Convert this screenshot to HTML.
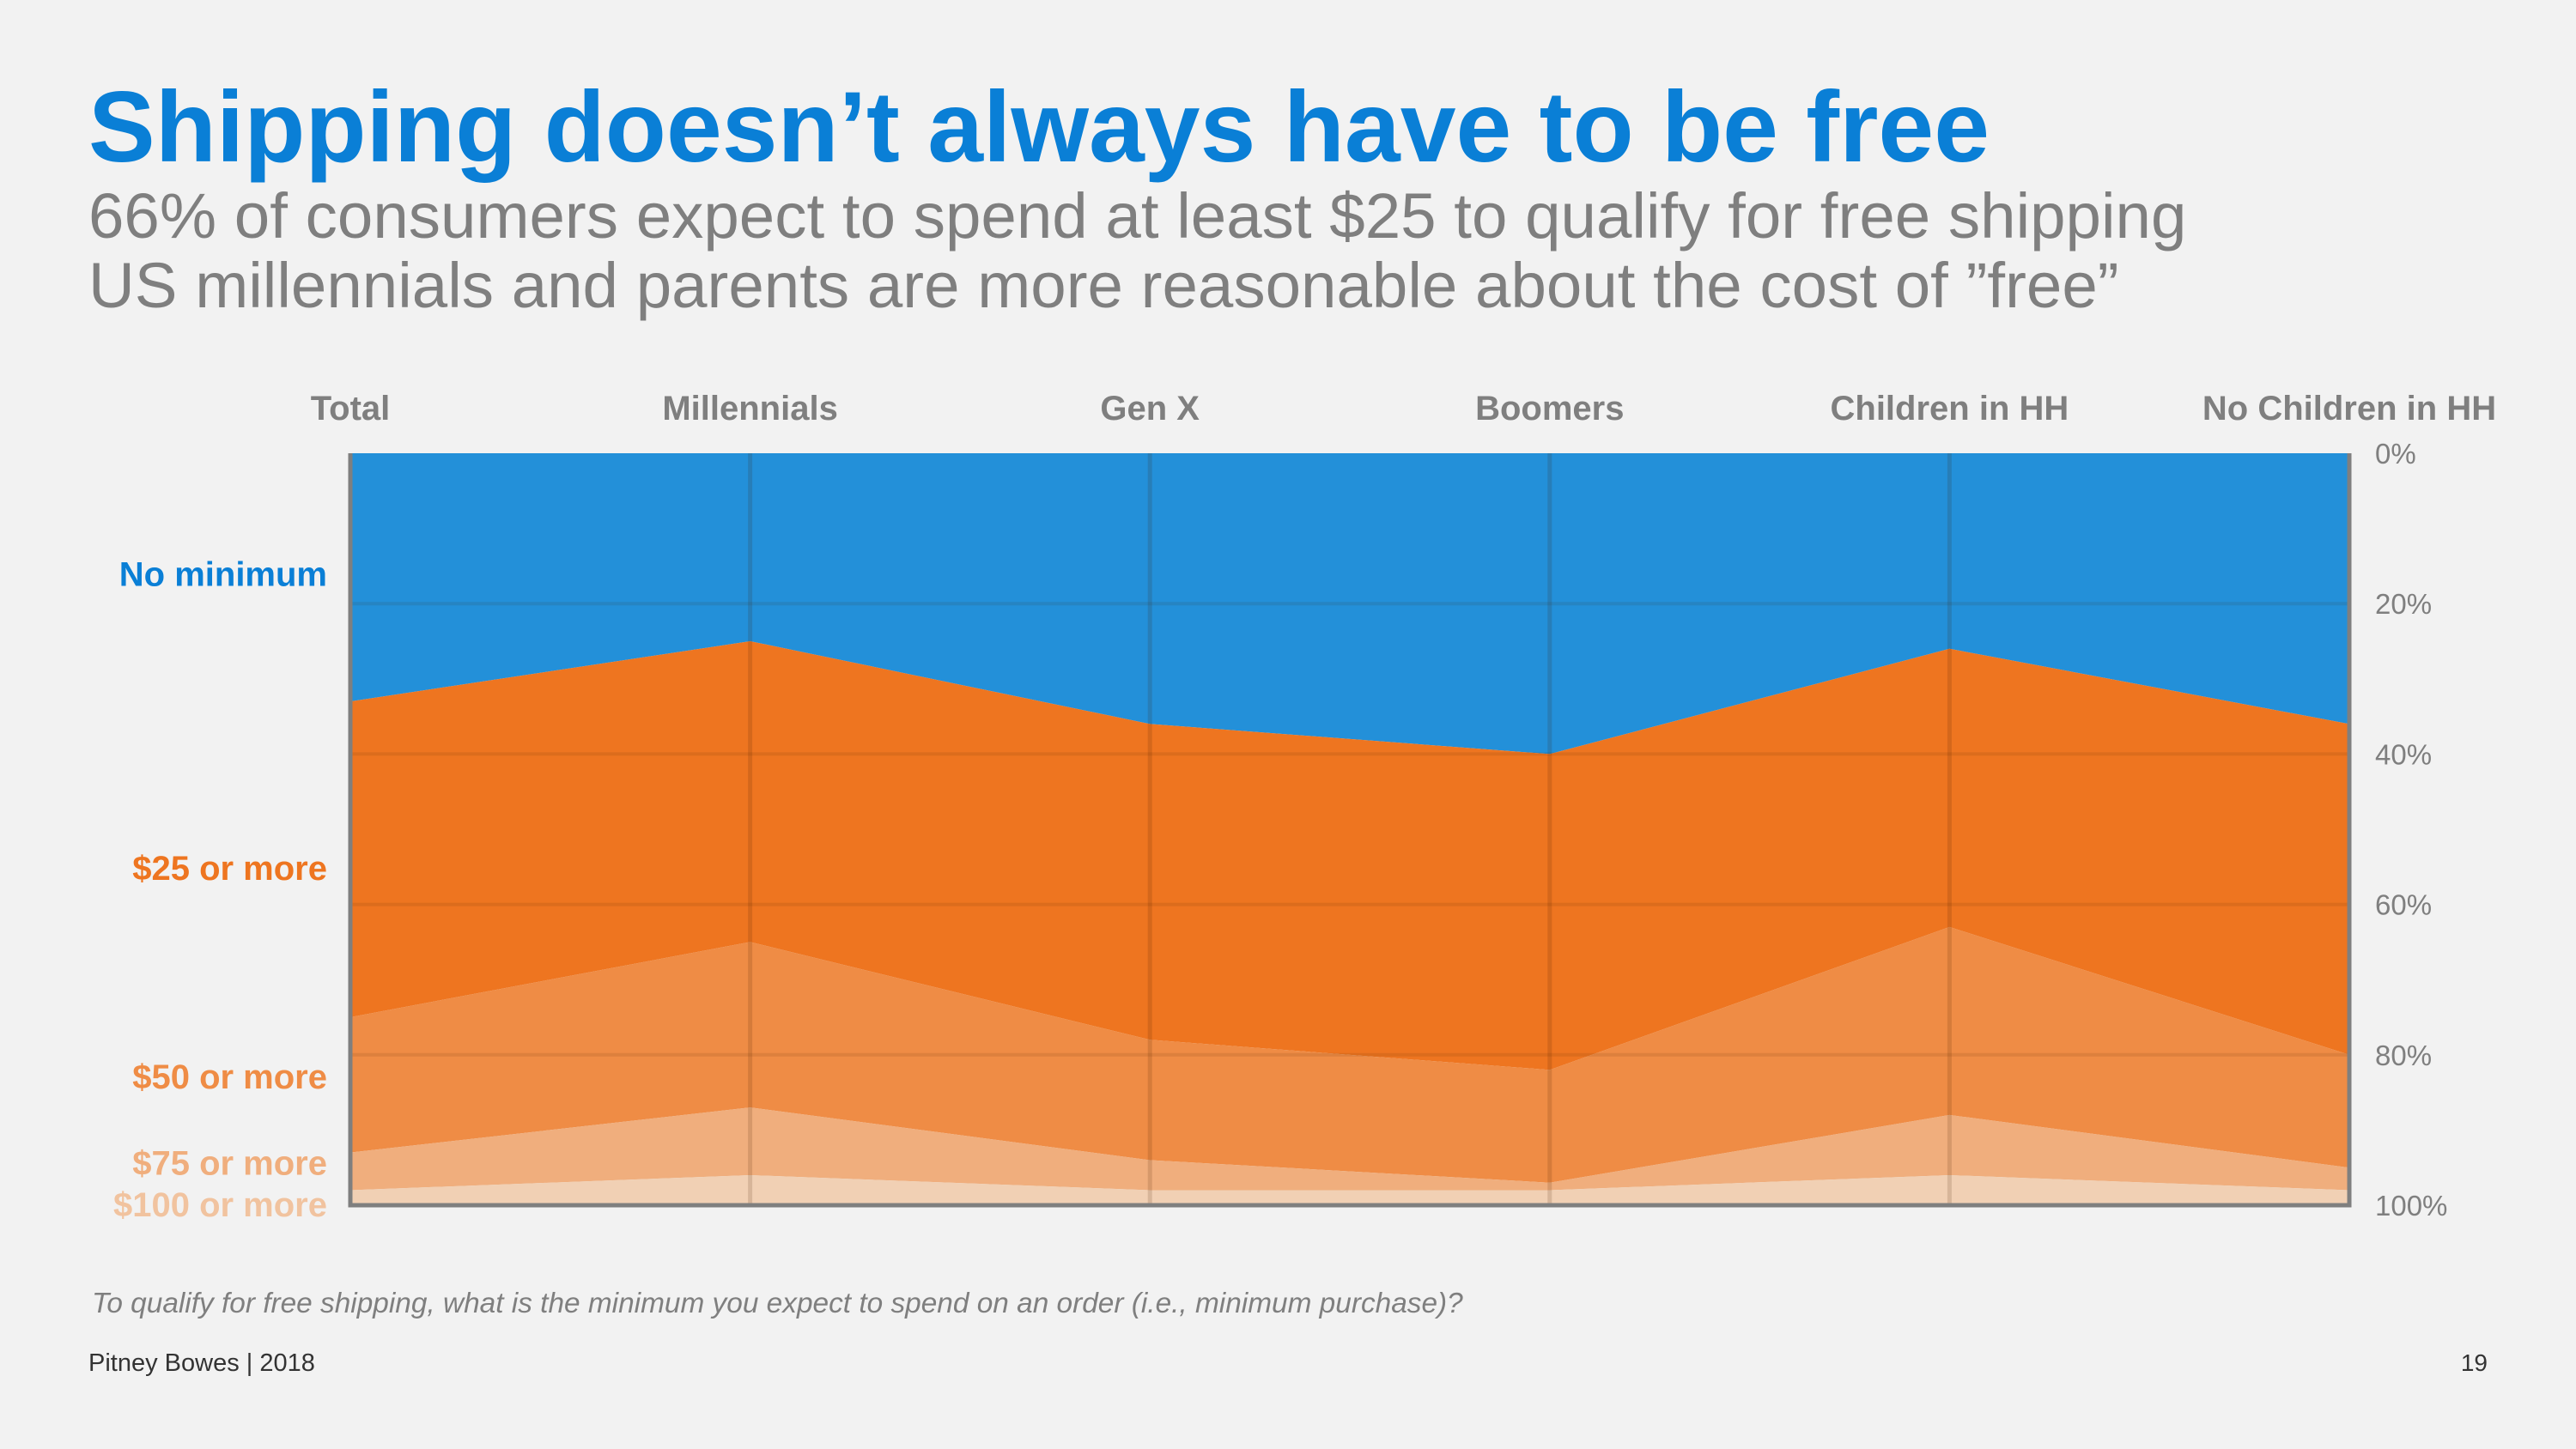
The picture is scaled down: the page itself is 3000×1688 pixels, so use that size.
<!DOCTYPE html>
<html><head><meta charset="utf-8"><style>
html,body{margin:0;padding:0;background:#f2f2f2;}
svg{display:block;font-family:"Liberation Sans",Arial,sans-serif;}
</style></head><body>
<svg id="chart" width="3000" height="1688" viewBox="0 0 3000 1688" xmlns="http://www.w3.org/2000/svg">
<rect width="3000" height="1688" fill="#f2f2f2"/>
<text x="103" y="188" font-size="116.5" font-weight="bold" fill="#0a7fd6">Shipping doesn’t always have to be free</text>
<text x="103" y="277" font-size="74.5" fill="#7f7f7f">66% of consumers expect to spend at least $25 to qualify for free shipping</text>
<text x="103" y="358" font-size="74.5" fill="#7f7f7f">US millennials and parents are more reasonable about the cost of ”free”</text>
<g id="plot"></g>
<text x="107" y="1529" font-size="33.4" font-style="italic" fill="#7f7f7f">To qualify for free shipping, what is the minimum you expect to spend on an order (i.e., minimum purchase)?</text>
<text x="103" y="1597" font-size="29" fill="#333">Pitney Bowes | 2018</text>
<text x="2897" y="1597" font-size="28" fill="#333" text-anchor="end">19</text>
</svg>
<script>
const categories = ["Total","Millennials","Gen X","Boomers","Children in HH","No Children in HH"];
const seriesNames = ["No minimum","$25 or more","$50 or more","$75 or more","$100 or more"];
const noMinimum = [33,25,36,40,26,36];
const min25 = [42,40,42,42,37,44];
const min50 = [18,22,16,15,25,15];
const min75 = [5,9,4,1,8,3];
const min100 = [2,4,2,2,4,2];
const yTicks = [0,20,40,60,80,100];

const series=[noMinimum,min25,min50,min75,min100];
const colors=["#2390d9","#ee7520","#ef8c45","#f0ae7d","#f1d0b4"];
const labelColors=["#0a7fd6","#ee7520","#ef8c45","#f0ae7d","#f1c39f"];
const labelShift=[-4,10,-10,-4,8];
const L=408,R=2736,T=528,B=1404;
const NS="http://www.w3.org/2000/svg";
const g=document.getElementById('plot');
const x=i=>L+(R-L)*i/(categories.length-1);
const y=v=>T+(B-T)*v/100;
function mk(t,a){const e=document.createElementNS(NS,t);for(const k in a)e.setAttribute(k,a[k]);g.appendChild(e);return e;}
let cum=categories.map(()=>0);
series.forEach((s,si)=>{
  const top=cum.slice(); const bot=cum.map((c,i)=>c+s[i]);
  let pts=top.map((v,i)=>x(i)+","+y(v));
  for(let i=bot.length-1;i>=0;i--)pts.push(x(i)+","+y(bot[i]));
  const p=mk('polygon',{points:pts.join(" "),fill:colors[si]});
  
  
  const mid=(top[0]+bot[0])/2;
  const ly=y(mid)+14+labelShift[si]+(si==3?-6:0);
  const t=mk('text',{x:381,y:ly,'font-size':40,'font-weight':'bold','text-anchor':'end',fill:labelColors[si]});
  t.textContent=seriesNames[si];
  
  
  cum=bot;
});
yTicks.forEach(v=>{
  if(v>0&&v<100){const l=mk('line',{x1:L,x2:R,y1:y(v),y2:y(v),stroke:'rgba(70,30,0,0.10)','stroke-width':4});
  
  }
  const t=mk('text',{x:2766,y:y(v)+12,'font-size':33,fill:'#7f7f7f'});
  t.textContent=v+"%";
  
  
});
categories.forEach((c,i)=>{
  if(i>0&&i<categories.length-1){const l=mk('line',{x1:x(i),x2:x(i),y1:T,y2:B,stroke:'rgba(70,30,0,0.15)','stroke-width':5});
  
  }
  const t=mk('text',{x:x(i),y:489,'font-size':40,'font-weight':'bold','text-anchor':'middle',fill:'#7f7f7f'});
  t.textContent=c;
  
  
});
const ax=mk('polyline',{points:`${L},${T} ${L},${B} ${R},${B} ${R},${T}`,fill:'none',stroke:'#7f7f7f','stroke-width':5});


</script>
</body></html>
